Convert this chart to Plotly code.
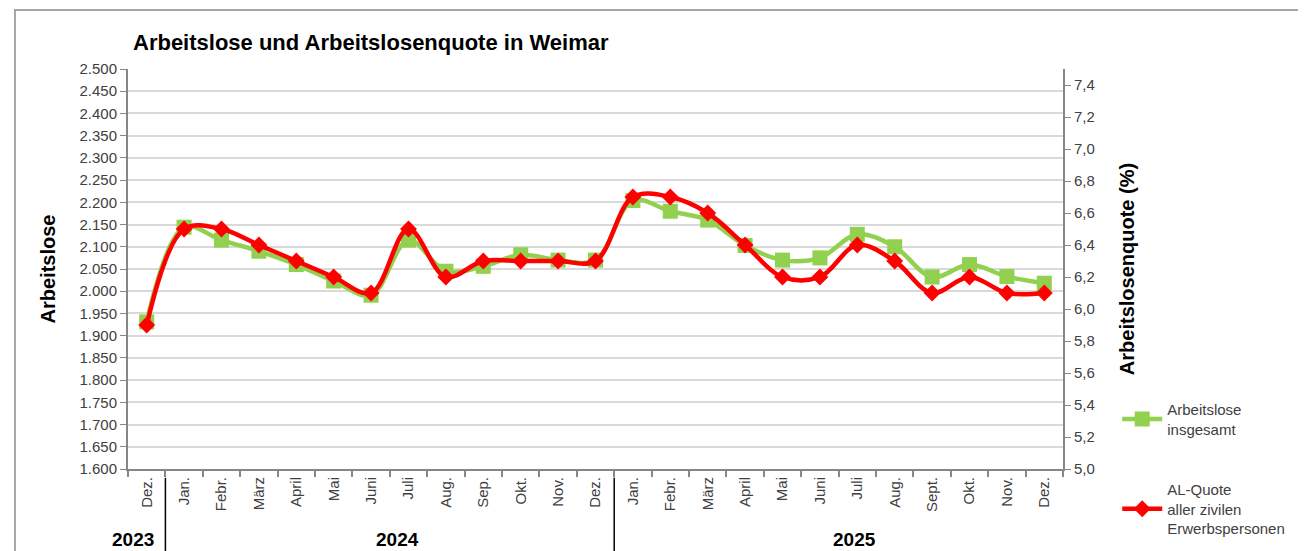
import plotly.graph_objects as go

months = ["Dez.", "Jan.", "Febr.", "März", "April", "Mai", "Juni", "Juli", "Aug.", "Sep.", "Okt.", "Nov.", "Dez.",
          "Jan.", "Febr.", "März", "April", "Mai", "Juni", "Juli", "Aug.", "Sept.", "Okt.", "Nov.", "Dez."]
years = ["2023"] + ["2024"] * 12 + ["2025"] * 12
arbeitslose = [1931, 2144, 2115, 2090, 2060, 2023, 1991, 2115, 2045, 2056, 2082, 2070, 2070,
               2204, 2180, 2160, 2103, 2070, 2075, 2128, 2100, 2032, 2060, 2033, 2018]
quote = [5.9, 6.5, 6.5, 6.4, 6.3, 6.2, 6.1, 6.5, 6.2, 6.3, 6.3, 6.3, 6.3,
         6.7, 6.7, 6.6, 6.4, 6.2, 6.2, 6.4, 6.3, 6.1, 6.2, 6.1, 6.1]
left_ticks = list(range(1600, 2501, 50))
right_ticks = [5.0, 5.2, 5.4, 5.6, 5.8, 6.0, 6.2, 6.4, 6.6, 6.8, 7.0, 7.2, 7.4]

x = list(range(len(months)))
GREEN = "#92D050"
RED = "#FF0000"
AXIS = "#868686"
TXT = "#404040"
FONT = "Liberation Sans, Arial, sans-serif"
W, H = 1298, 543  # page body adds 8px margin at top/left

fig = go.Figure()
fig.add_trace(go.Scatter(
    x=x, y=arbeitslose, name="Arbeitslose<br>insgesamt", mode="lines+markers",
    line=dict(color=GREEN, width=4.5, shape="spline", smoothing=1.0),
    marker=dict(symbol="square", size=15, color=GREEN),
    legend="legend", yaxis="y", showlegend=True))
fig.add_trace(go.Scatter(
    x=x, y=quote, name="AL-Quote<br>aller zivilen<br>Erwerbspersonen", mode="lines+markers",
    line=dict(color=RED, width=4.5, shape="spline", smoothing=1.0),
    marker=dict(symbol="diamond", size=13, color=RED),
    legend="legend2", yaxis="y2", showlegend=True))

# year separators and labels
shapes = []
annotations = []
groups = []
start = 0
for i in range(1, len(years) + 1):
    if i == len(years) or years[i] != years[start]:
        groups.append((years[start], start, i - 1))
        if i < len(years):
            shapes.append(dict(type="line", xref="x", yref="paper", x0=i - 0.5, x1=i - 0.5,
                               y0=-0.022, y1=-0.25, line=dict(color="#000000", width=1.5)))
        start = i
xshifts = [-14, 8, 16]
for (yr, a, b), xs in zip(groups, xshifts):
    annotations.append(dict(text="<b>" + yr + "</b>", x=(a + b) / 2, xref="x", y=-0.175, yref="paper",
                            showarrow=False, xshift=xs, font=dict(size=19, color="#000000", family=FONT),
                            yanchor="middle"))

# outer frame
shapes.append(dict(type="rect", xref="paper", yref="paper", x0=-0.1209, x1=1.2556, y0=-0.3, y1=1.1475,
                   line=dict(color="#A6A6A6", width=2), fillcolor="rgba(0,0,0,0)", layer="below"))

fig.update_layout(
    width=W, height=H,
    margin=dict(l=120, r=243, t=61, b=82, autoexpand=False),
    paper_bgcolor="white", plot_bgcolor="white",
    separators=",.",
    showlegend=True,
    font=dict(family=FONT, color=TXT, size=15),
    title=dict(text="<b>Arbeitslose und Arbeitslosenquote in Weimar</b>", xref="container", x=125 / W,
               xanchor="left", yref="container", y=1 - 34 / H, yanchor="middle",
               font=dict(size=22, color="#000000", family=FONT)),
    xaxis=dict(range=[-0.5, len(months) - 0.5], tickmode="array", tickvals=x, ticktext=months,
               tickangle=-90, ticks="", showgrid=False, zeroline=False,
               showline=True, linecolor=AXIS, linewidth=2,
               tickfont=dict(size=15, color=TXT),
               minor=dict(tickmode="linear", tick0=-0.5, dtick=1, ticks="outside", ticklen=6,
                          tickcolor=AXIS, tickwidth=1.5, showgrid=False)),
    yaxis=dict(range=[1600, 2500], tickmode="array", tickvals=left_ticks, tickformat=",.0f",
               showgrid=True, gridcolor="#D9D9D9", gridwidth=1.5, zeroline=False,
               showline=True, linecolor=AXIS, linewidth=2, ticks="outside", ticklen=6,
               tickcolor=AXIS, tickfont=dict(size=15, color=TXT),
               title=dict(text="<b>Arbeitslose</b>", standoff=18,
                          font=dict(size=20, color="#000000", family=FONT))),
    yaxis2=dict(range=[5.0, 7.5], overlaying="y", side="right", tickmode="array", tickvals=right_ticks,
                tickformat=".1f", showgrid=False, zeroline=False,
                showline=True, linecolor=AXIS, linewidth=2, ticks="outside", ticklen=6,
                tickcolor=AXIS, tickfont=dict(size=15, color=TXT),
                title=dict(text="<b>Arbeitslosenquote (%)</b>", standoff=26,
                           font=dict(size=20, color="#000000", family=FONT))),
    legend=dict(x=1.058, y=0.19, xanchor="left", yanchor="top", bgcolor="rgba(0,0,0,0)",
                font=dict(size=15, color=TXT), itemwidth=40),
    legend2=dict(x=1.058, y=-0.01, xanchor="left", yanchor="top", bgcolor="rgba(0,0,0,0)",
                 font=dict(size=15, color=TXT), itemwidth=40),
    shapes=shapes, annotations=annotations,
)

fig.write_html("out.html")
